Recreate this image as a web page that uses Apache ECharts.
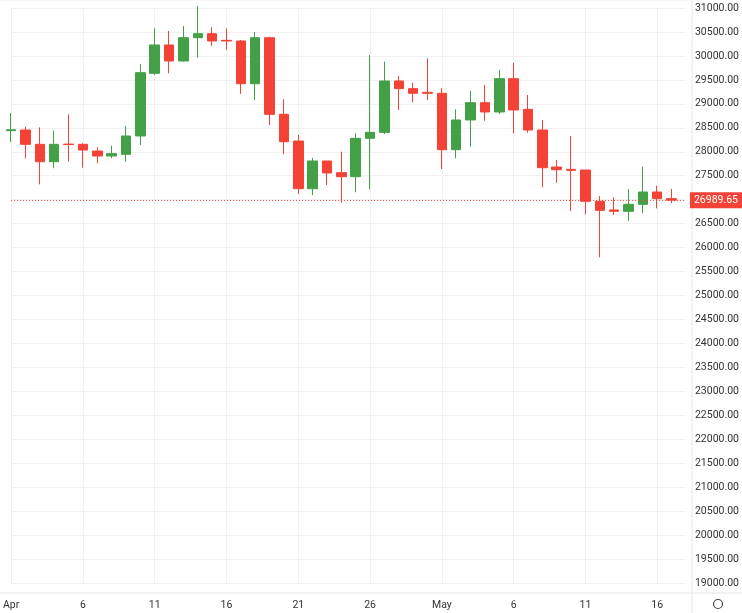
<!DOCTYPE html>
<html><head><meta charset="utf-8">
<script src="https://cdn.jsdelivr.net/npm/echarts@6/dist/echarts.min.js"></script>
<style>html,body{margin:0;padding:0;background:#fff}#c{width:742px;height:613px}</style>
</head><body><div id="c"></div>
<script>
const dates = ['04-01','04-02','04-03','04-04','04-05','04-06','04-07','04-08','04-09','04-10','04-11','04-12','04-13','04-14','04-15','04-16','04-17','04-18','04-19','04-20','04-21','04-22','04-23','04-24','04-25','04-26','04-27','04-28','04-29','04-30','05-01','05-02','05-03','05-04','05-05','05-06','05-07','05-08','05-09','05-10','05-11','05-12','05-13','05-14','05-15','05-16','05-17','05-18'];
const opens  = [28440,28454,28155,27792,28160,28155,28015,27911,27946,28329,29637,30228,29894,30380,30464,30325,30311,29420,30380,28781,28224,27229,27807,27564,27480,28280,28405,29477,29317,29240,29220,28043,28663,29024,28830,29525,28885,28454,27681,27633,27619,26966,26785,26757,26903,27160,27021];
const closes = [28460,28155,27792,28155,28150,28036,27911,27960,28329,29650,30228,29894,30380,30464,30311,30311,29420,30380,28781,28210,27229,27807,27557,27480,28280,28405,29477,29317,29220,29220,28043,28663,29024,28830,29525,28871,28454,27667,27626,27612,26966,26778,26757,26903,27160,27021,26990];
const lows   = [28203,27863,27320,27655,27792,27667,27759,27863,27792,28141,29602,29637,29880,29963,30213,30123,29205,29080,28558,27953,27118,27097,27306,26937,27153,27216,28370,28871,29032,29080,27640,27863,28106,28648,28788,28384,28398,27258,27355,26763,26694,25797,26680,26561,26715,26819,26924];
const highs  = [28809,28523,28510,28440,28781,28180,28093,28127,28537,29825,30576,30520,30624,31042,30597,30576,30332,30499,30401,29094,28350,27870,27807,28001,28384,30019,29880,29581,29441,29950,29324,28886,29274,29393,29706,29858,29184,28663,27828,28329,27050,27076,27049,27222,27688,27292,27222];
const xTickLabels = {'04-01':'Apr','04-06':'6','04-11':'11','04-16':'16','04-21':'21','04-26':'26','05-01':'May','05-06':'6','05-11':'11','05-16':'16'};
const lastPrice = 26989.65;

const ohlc = opens.map((o,i)=>[o, closes[i], lows[i], highs[i]]);
const isTick = (i, v) => xTickLabels[v] !== undefined;
const chart = echarts.init(document.getElementById('c'), null, {renderer:'canvas'});
chart.setOption({
  animation:false,
  grid:{left:8, right:51, top:8, bottom:30},
  xAxis:{type:'category', data:dates, boundaryGap:false,
    axisLine:{show:false}, axisTick:{show:false},
    axisLabel:{interval:isTick, formatter:v=>xTickLabels[v]||'', color:'#333', fontSize:10.5, margin:17, fontFamily:'Roboto'},
    splitLine:{show:true, interval:isTick, lineStyle:{color:'#f0f0f0'}}},
  yAxis:{type:'value', position:'right', min:19000, max:31000, interval:500,
    axisLine:{show:false}, axisTick:{show:false},
    axisLabel:{formatter:v=>v.toFixed(2), color:'#333', fontSize:10.5, margin:9, fontFamily:'Roboto'},
    splitLine:{lineStyle:{color:'#f0f0f0'}}},
  graphic:[
    {type:'line', shape:{x1:0,y1:593,x2:742,y2:593}, style:{stroke:'#e6e6e6',lineWidth:1}},
    {type:'line', shape:{x1:692,y1:0,x2:692,y2:613}, style:{stroke:'#e6e6e6',lineWidth:1}},
    {type:'line', shape:{x1:0,y1:0,x2:692,y2:0}, style:{stroke:'#f0f0f0',lineWidth:1}},
    {type:'circle', shape:{cx:718,cy:604,r:4.5}, style:{fill:'none',stroke:'#444',lineWidth:1.2}}
  ],
  series:[{type:'candlestick', data:ohlc, barWidth:10, clip:false,
    itemStyle:{color:'#43a047', color0:'#f44336', borderColor:'#43a047', borderColor0:'#f44336', borderWidth:1},
    markLine:{symbol:'none', silent:true,
      data:[{yAxis:lastPrice}],
      lineStyle:{color:'#f44336', type:[1,2], width:1},
      label:{position:'end', formatter:()=>lastPrice.toFixed(2), color:'#fff', backgroundColor:'#f44336', padding:[3,4,2,4], fontSize:10.5, fontFamily:'Roboto', distance:4}}
  }]
});
</script></body></html>
